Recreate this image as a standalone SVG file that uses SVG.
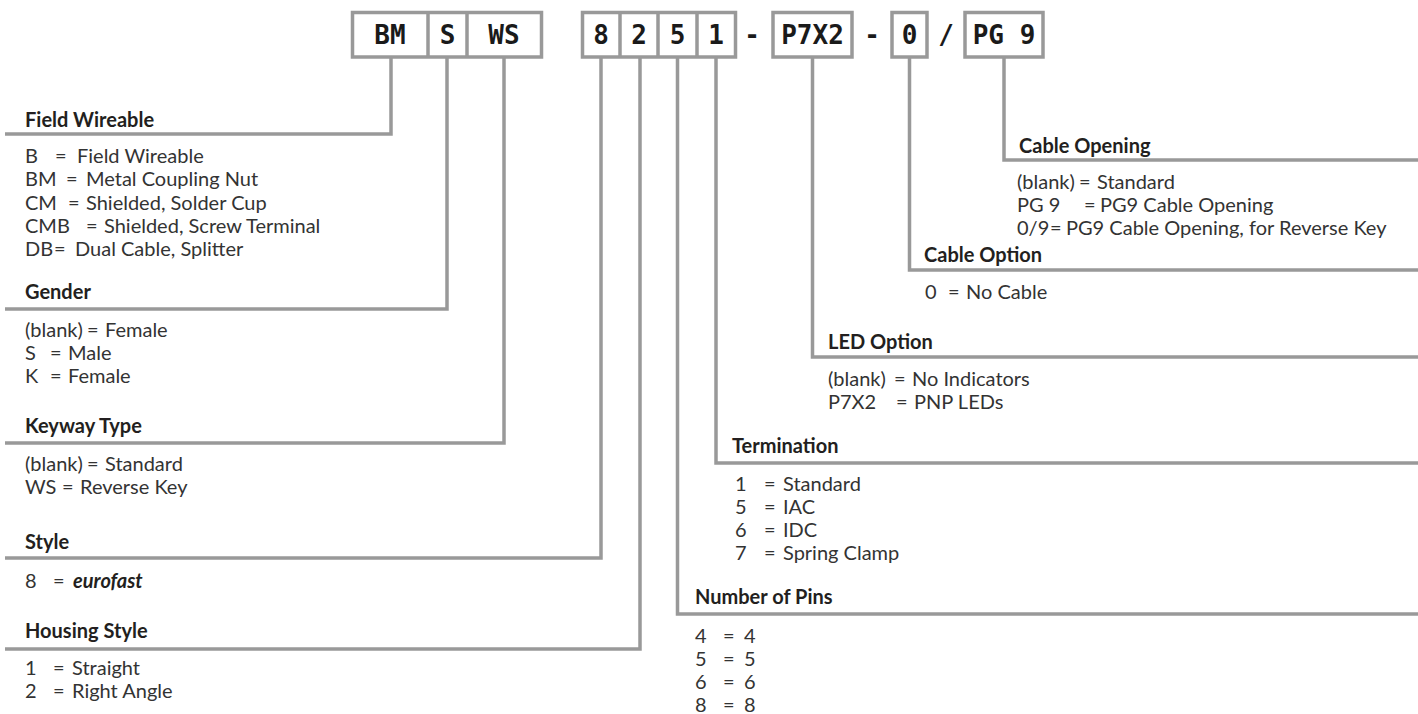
<svg xmlns="http://www.w3.org/2000/svg" width="1418" height="714" viewBox="0 0 1418 714">
<style>
.bx{fill:#fff;stroke:#999;stroke-width:3.5}
.dv{stroke:#999;stroke-width:3.5}
.code{font-family:"DejaVu Sans Mono",monospace;font-weight:bold;font-size:26px;fill:#1a1a1a;text-anchor:middle}
.ln{fill:none;stroke:#999;stroke-width:3.5}
.t{font-family:Lato,"Open Sans",sans-serif;font-weight:bold;font-size:20px;fill:#231f20}
.i{font-family:Lato,"Open Sans",sans-serif;font-size:20px;fill:#333}
.em{font-weight:bold;font-style:italic;fill:#231f20}
</style>
<rect width="1418" height="714" fill="#fff"/>

<g id="connectors">
<path class="ln" d="M391,57 V134 H5"/>
<path class="ln" d="M447,57 V309 H5"/>
<path class="ln" d="M504,57 V443 H5"/>
<path class="ln" d="M601,57 V558 H5"/>
<path class="ln" d="M640,57 V649 H5"/>
<path class="ln" d="M677.5,57 V614 H1418"/>
<path class="ln" d="M716,57 V463 H1418"/>
<path class="ln" d="M812.5,57 V357 H1418"/>
<path class="ln" d="M909.5,57 V270 H1418"/>
<path class="ln" d="M1004,57 V160 H1418"/>
</g>

<g id="code-boxes">
<rect class="bx" x="352.5" y="12.5" width="189" height="44.5"/>
<line class="dv" x1="428" y1="12.5" x2="428" y2="57"/>
<line class="dv" x1="467" y1="12.5" x2="467" y2="57"/>
<text class="code" x="390" y="43.5">BM</text>
<text class="code" x="447.5" y="43.5">S</text>
<text class="code" x="504" y="43.5">WS</text>
<rect class="bx" x="582.5" y="12.5" width="153" height="44.5"/>
<line class="dv" x1="620" y1="12.5" x2="620" y2="57"/>
<line class="dv" x1="658" y1="12.5" x2="658" y2="57"/>
<line class="dv" x1="697" y1="12.5" x2="697" y2="57"/>
<text class="code" x="601" y="43.5">8</text>
<text class="code" x="639" y="43.5">2</text>
<text class="code" x="677.5" y="43.5">5</text>
<text class="code" x="716" y="43.5">1</text>
<text class="code" x="752" y="43.5">-</text>
<rect class="bx" x="773" y="12.5" width="79" height="44.5"/>
<text class="code" x="812.5" y="43.5">P7X2</text>
<text class="code" x="872" y="43.5">-</text>
<rect class="bx" x="892" y="12.5" width="35" height="44.5"/>
<text class="code" x="909.5" y="43.5">0</text>
<text class="code" x="946" y="43.5">/</text>
<rect class="bx" x="965" y="12.5" width="78" height="44.5"/>
<text class="code" x="1004" y="43.5">PG 9</text>
</g>

<g id="field-wireable">
<text class="t" x="25" y="127">Field Wireable</text>
<text class="i" y="163"><tspan x="25">B</tspan><tspan x="55">=</tspan><tspan x="77">Field Wireable</tspan></text>
<text class="i" y="186"><tspan x="25">BM</tspan><tspan x="66">=</tspan><tspan x="86">Metal Coupling Nut</tspan></text>
<text class="i" y="210"><tspan x="25">CM</tspan><tspan x="68">=</tspan><tspan x="86">Shielded, Solder Cup</tspan></text>
<text class="i" y="233"><tspan x="25">CMB</tspan><tspan x="86">=</tspan><tspan x="104">Shielded, Screw Terminal</tspan></text>
<text class="i" y="256"><tspan x="25">DB</tspan><tspan x="54">=</tspan><tspan x="75">Dual Cable, Splitter</tspan></text>
</g>

<g id="gender">
<text class="t" x="25" y="299">Gender</text>
<text class="i" y="337"><tspan x="25">(blank)</tspan><tspan x="87">=</tspan><tspan x="105">Female</tspan></text>
<text class="i" y="360"><tspan x="25">S</tspan><tspan x="50">=</tspan><tspan x="68">Male</tspan></text>
<text class="i" y="383"><tspan x="25">K</tspan><tspan x="50">=</tspan><tspan x="68">Female</tspan></text>
</g>

<g id="keyway-type">
<text class="t" x="25" y="433">Keyway Type</text>
<text class="i" y="471"><tspan x="25">(blank)</tspan><tspan x="87">=</tspan><tspan x="105">Standard</tspan></text>
<text class="i" y="494"><tspan x="25">WS</tspan><tspan x="62">=</tspan><tspan x="80">Reverse Key</tspan></text>
</g>

<g id="style">
<text class="t" x="25" y="549">Style</text>
<text class="i" y="588"><tspan x="25">8</tspan><tspan x="53">=</tspan><tspan class="em" x="73">eurofast</tspan></text>
</g>

<g id="housing-style">
<text class="t" x="25" y="638">Housing Style</text>
<text class="i" y="675"><tspan x="25">1</tspan><tspan x="53">=</tspan><tspan x="72">Straight</tspan></text>
<text class="i" y="698"><tspan x="25">2</tspan><tspan x="53">=</tspan><tspan x="72">Right Angle</tspan></text>
</g>

<g id="cable-opening">
<text class="t" x="1019" y="153">Cable Opening</text>
<text class="i" y="189"><tspan x="1017">(blank)</tspan><tspan x="1079">=</tspan><tspan x="1097">Standard</tspan></text>
<text class="i" y="212"><tspan x="1017">PG 9</tspan><tspan x="1084">=</tspan><tspan x="1100">PG9 Cable Opening</tspan></text>
<text class="i" y="235"><tspan x="1017">0/9</tspan><tspan x="1050">=</tspan><tspan x="1066">PG9 Cable Opening, for Reverse Key</tspan></text>
</g>

<g id="cable-option">
<text class="t" x="924" y="262">Cable Option</text>
<text class="i" y="299"><tspan x="925">0</tspan><tspan x="948">=</tspan><tspan x="966">No Cable</tspan></text>
</g>

<g id="led-option">
<text class="t" x="828" y="349">LED Option</text>
<text class="i" y="386"><tspan x="828">(blank)</tspan><tspan x="894">=</tspan><tspan x="912">No Indicators</tspan></text>
<text class="i" y="409"><tspan x="828">P7X2</tspan><tspan x="896">=</tspan><tspan x="914">PNP LEDs</tspan></text>
</g>

<g id="termination">
<text class="t" x="732" y="453">Termination</text>
<text class="i" y="491"><tspan x="735">1</tspan><tspan x="764">=</tspan><tspan x="783">Standard</tspan></text>
<text class="i" y="514"><tspan x="735">5</tspan><tspan x="764">=</tspan><tspan x="783">IAC</tspan></text>
<text class="i" y="537"><tspan x="735">6</tspan><tspan x="764">=</tspan><tspan x="783">IDC</tspan></text>
<text class="i" y="560"><tspan x="735">7</tspan><tspan x="764">=</tspan><tspan x="783">Spring Clamp</tspan></text>
</g>

<g id="number-of-pins">
<text class="t" x="695" y="604">Number of Pins</text>
<text class="i" y="643"><tspan x="695">4</tspan><tspan x="723">=</tspan><tspan x="744">4</tspan></text>
<text class="i" y="666"><tspan x="695">5</tspan><tspan x="723">=</tspan><tspan x="744">5</tspan></text>
<text class="i" y="689"><tspan x="695">6</tspan><tspan x="723">=</tspan><tspan x="744">6</tspan></text>
<text class="i" y="712"><tspan x="695">8</tspan><tspan x="723">=</tspan><tspan x="744">8</tspan></text>
</g>
</svg>
